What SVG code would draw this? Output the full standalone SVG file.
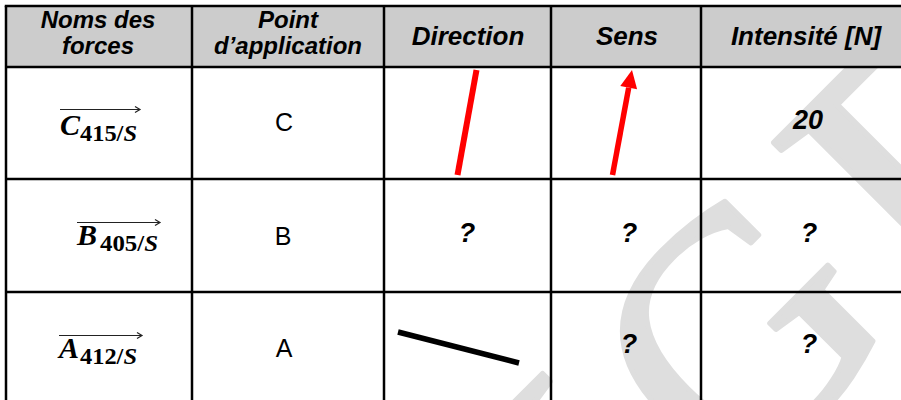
<svg xmlns="http://www.w3.org/2000/svg" width="901" height="400" viewBox="0 0 901 400">
<style>
.wm text{font-family:"Liberation Serif","Times New Roman",serif;font-size:400px;fill:#dedede;stroke:#dedede;stroke-width:6;stroke-linejoin:round}
.hdr{font-family:"Liberation Sans",Arial,sans-serif;font-weight:bold;font-style:italic;font-size:24px;text-anchor:middle;fill:#000}
.hdr1{font-size:26px}
.pt{font-family:"Liberation Sans",Arial,sans-serif;font-size:25px;text-anchor:middle;fill:#000}
.q{font-family:"Liberation Sans",Arial,sans-serif;font-weight:bold;font-style:italic;font-size:27px;text-anchor:middle;fill:#000}
.mv{font-family:"Liberation Serif","Times New Roman",serif;font-weight:bold;font-style:italic;font-size:30px;fill:#000}
.ms{font-family:"Liberation Serif","Times New Roman",serif;font-weight:bold;font-size:24px;fill:#000}
.grid line{stroke:#000;stroke-width:2.5}
.vec{fill:none;stroke:#222;stroke-width:1.2}
</style>
<rect width="901" height="400" fill="#fff"/>
<g id="watermark" class="wm" transform="translate(643.5,643.5) rotate(-45)">
<text x="0">I</text>
<text x="163" y="-40" style="font-size:340px;stroke-width:5">G</text>
<text x="435">E</text>
</g>
<rect id="header-fill" x="6" y="6" width="895" height="61" fill="#cccccc"/>
<g class="grid" id="grid">
<line x1="4.75" y1="6" x2="901" y2="6"/>
<line x1="6" y1="6" x2="6" y2="400"/>
<line x1="192" y1="6" x2="192" y2="400"/>
<line x1="384" y1="6" x2="384" y2="400"/>
<line x1="551" y1="6" x2="551" y2="400"/>
<line x1="701" y1="6" x2="701" y2="400"/>
<line x1="6" y1="67" x2="901" y2="67"/>
<line x1="6" y1="179" x2="901" y2="179"/>
<line x1="6" y1="292" x2="901" y2="292"/>
</g>
<g id="header">
<text class="hdr" x="98" y="28">Noms des</text>
<text class="hdr" x="98" y="54">forces</text>
<text class="hdr" x="288" y="28">Point</text>
<text class="hdr" x="288" y="54">d’application</text>
<text class="hdr hdr1" x="468" y="45">Direction</text>
<text class="hdr hdr1" x="627" y="45">Sens</text>
<text class="hdr hdr1" x="806" y="45">Intensité [N]</text>
</g>
<g id="row-C">
<path class="vec" d="M60 109.5H140M135 106.5L140 109.5L135 112.5"/>
<text class="mv" x="60" y="135">C</text>
<text class="ms" x="80" y="141" textLength="57" lengthAdjust="spacingAndGlyphs">415/<tspan font-style="italic">S</tspan></text>
<text class="pt" x="284" y="131">C</text>
<line x1="476.5" y1="70" x2="457.5" y2="175" stroke="#ff0000" stroke-width="6"/>
<line x1="612.5" y1="175" x2="628.7" y2="87.7" stroke="#ff0000" stroke-width="5.5"/>
<polygon points="632,70 637.1,89.2 620.3,86.1" fill="#ff0000"/>
<text class="q" x="808" y="129">20</text>
</g>
<g id="row-B">
<path class="vec" d="M77 222.5H160M155 219.5L160 222.5L155 225.5"/>
<text class="mv" x="77" y="245">B</text>
<text class="ms" x="100" y="251" textLength="58" lengthAdjust="spacingAndGlyphs">405/<tspan font-style="italic">S</tspan></text>
<text class="pt" x="283" y="245">B</text>
<text class="q" x="467" y="242">?</text>
<text class="q" x="629" y="242">?</text>
<text class="q" x="809" y="242">?</text>
</g>
<g id="row-A">
<path class="vec" d="M59 335.5H142M137 332.5L142 335.5L137 338.5"/>
<text class="mv" x="59" y="358">A</text>
<text class="ms" x="80" y="364" textLength="57" lengthAdjust="spacingAndGlyphs">412/<tspan font-style="italic">S</tspan></text>
<text class="pt" x="284" y="357">A</text>
<line x1="398" y1="332" x2="519" y2="363" stroke="#000" stroke-width="5.5"/>
<text class="q" x="629" y="353">?</text>
<text class="q" x="809" y="353">?</text>
</g>
</svg>
